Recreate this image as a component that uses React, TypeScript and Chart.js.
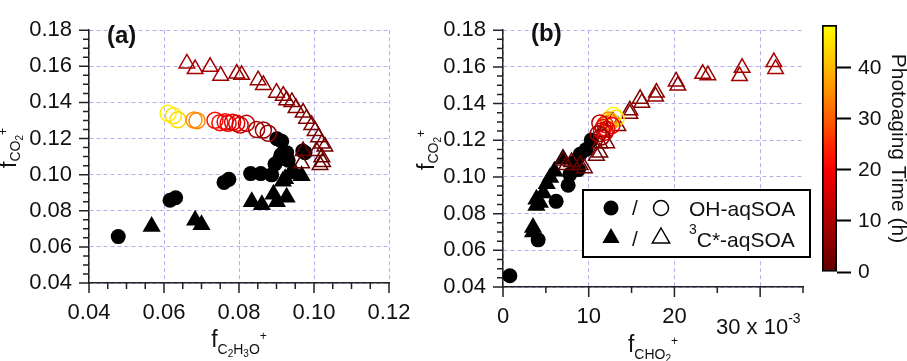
import React, { useEffect, useRef } from 'react';
import { Chart, registerables } from 'chart.js';

Chart.register(...registerables);

const FONT = "'Liberation Sans', Arial, Helvetica, sans-serif";
const TEXT = '#111';
const AXIS = '#222';
const GRID = '#b0b0ee';

// ---------------- data: panel (a)  x = f(C2H3O+), y = f(CO2+) ----------------
const aOpenTriX = [0.0661, 0.0683, 0.0723, 0.0751, 0.0794, 0.0807, 0.0851, 0.0865, 0.0900, 0.0918, 0.0927, 0.0941, 0.0952, 0.0971, 0.0980, 0.0994, 0.1003, 0.1012, 0.1021, 0.1029, 0.1007, 0.1021, 0.0971, 0.0967, 0.1016, 0.1023];
const aOpenTriY = [0.1616, 0.1585, 0.1597, 0.1548, 0.1560, 0.1553, 0.1523, 0.1497, 0.1454, 0.1437, 0.1412, 0.1403, 0.1369, 0.1344, 0.1310, 0.1275, 0.1242, 0.1207, 0.1173, 0.1156, 0.1131, 0.1096, 0.1131, 0.1063, 0.1054, 0.1070];
const aOpenTriT = [10, 9.5, 9, 8.5, 8, 7.5, 7, 6.5, 6, 5.5, 5, 5, 4.5, 4, 4, 3.5, 3.5, 3, 3, 2.5, 2.5, 2, 2, 1.5, 1, 1];

const aOpenCircX = [0.0611, 0.0625, 0.0637, 0.0680, 0.0688, 0.0736, 0.0749, 0.0763, 0.0771, 0.0783, 0.0794, 0.0803, 0.0820, 0.0847, 0.0865, 0.0878];
const aOpenCircY = [0.1340, 0.1326, 0.1304, 0.1303, 0.1299, 0.1301, 0.1288, 0.1293, 0.1284, 0.1290, 0.1284, 0.1275, 0.1284, 0.1250, 0.1247, 0.1229];
const aOpenCircT = [47, 45, 44, 36, 34, 22, 21, 20, 19, 18, 16, 15, 12, 9, 8, 7];

const aClosedCircX = [0.0478, 0.0616, 0.0631, 0.0760, 0.0773, 0.0831, 0.0858, 0.0887, 0.0896, 0.0909, 0.0912, 0.0927, 0.0901, 0.0914, 0.0976, 0.0970, 0.0931];
const aClosedCircY = [0.0657, 0.0858, 0.0872, 0.0957, 0.0974, 0.1006, 0.1006, 0.0999, 0.1059, 0.1088, 0.1110, 0.1122, 0.1199, 0.1185, 0.1122, 0.1131, 0.1080];

const aClosedTriX = [0.0567, 0.0683, 0.0700, 0.0834, 0.0861, 0.0892, 0.0901, 0.0927, 0.0923, 0.0936, 0.0967, 0.0917, 0.0944];
const aClosedTriY = [0.0713, 0.0747, 0.0722, 0.0850, 0.0833, 0.0892, 0.0850, 0.0875, 0.0977, 0.1003, 0.0994, 0.0964, 0.1029];

// ---------------- data: panel (b)  x = f(CHO2+) in 10^-3, y = f(CO2+) ----------------
const bOpenTriX = [31.6, 31.8, 27.9, 27.6, 23.3, 23.9, 20.2, 20.4, 17.9, 17.8, 16.0, 16.2, 14.8, 14.8, 13.4, 12.8, 11.7, 12.1, 11.3, 11.3, 10.9, 9.5, 9.0, 8.0, 7.4, 7.0];
const bOpenTriY = [0.1626, 0.1589, 0.1595, 0.1550, 0.1562, 0.1555, 0.1521, 0.1498, 0.1460, 0.1439, 0.1426, 0.1405, 0.1363, 0.1345, 0.1278, 0.1303, 0.1243, 0.1184, 0.1184, 0.1133, 0.1116, 0.1048, 0.1065, 0.1082, 0.1065, 0.1090];
const bOpenTriT = [10, 9.5, 9, 8.5, 8, 7.5, 7, 6.5, 6, 5.5, 5, 5, 4.5, 4, 4, 3.5, 3.5, 3, 3, 2.5, 2.5, 2, 2, 1.5, 1, 1];

const bOpenCircX = [12.9, 13.2, 12.6, 12.4, 12.3, 11.9, 12.7, 11.7, 12.1, 11.5, 11.9, 11.3, 11.1, 11.5];
const bOpenCircY = [0.1337, 0.1320, 0.1303, 0.1294, 0.1310, 0.1286, 0.1280, 0.1269, 0.1260, 0.1252, 0.1243, 0.1294, 0.1235, 0.1218];
const bOpenCircT = [47, 45, 44, 36, 34, 22, 20, 19, 18, 16, 15, 12, 9, 7];

const bClosedCircX = [0.8, 4.1, 6.2, 7.6, 7.8, 8.4, 9.0, 9.7, 10.3, 8.8];
const bClosedCircY = [0.0461, 0.0657, 0.0867, 0.0955, 0.1014, 0.1082, 0.1124, 0.1150, 0.1201, 0.1040];

const bClosedTriX = [3.5, 3.5, 3.9, 4.3, 4.7, 5.1, 5.5, 6.0, 7.0, 3.9];
const bClosedTriY = [0.0725, 0.0700, 0.0844, 0.0861, 0.0912, 0.0963, 0.0997, 0.1031, 0.1099, 0.0878];

// ---------------- axes / ticks ----------------
const aXTicks = [0.04, 0.06, 0.08, 0.10, 0.12];
const yTicks = [0.04, 0.06, 0.08, 0.10, 0.12, 0.14, 0.16, 0.18];
const bXTicks = [0, 10, 20, 30];
const cbTicks = [0, 10, 20, 30, 40];
const CB_MAX = 48.4;

// colour table (time in h -> rgb)
const TIME_STOPS: [number, number[]][] = [
  [0, [96, 0, 0]],
  [10, [172, 0, 0]],
  [20, [248, 0, 0]],
  [25, [255, 40, 0]],
  [30, [255, 95, 0]],
  [40, [255, 185, 0]],
  [48.4, [255, 255, 0]],
];

function rgb(c: number[]) {
  return `rgb(${Math.round(c[0])},${Math.round(c[1])},${Math.round(c[2])})`;
}
function timeColor(t: number) {
  for (let i = 1; i < TIME_STOPS.length; i++) {
    const [t1, c1] = TIME_STOPS[i];
    const [t0, c0] = TIME_STOPS[i - 1];
    if (t <= t1) {
      const f = Math.max(0, (t - t0) / (t1 - t0));
      return rgb(c0.map((v, k) => v + (c1[k] - v) * f));
    }
  }
  return rgb(TIME_STOPS[TIME_STOPS.length - 1][1]);
}
function pts(xs: number[], ys: number[]) {
  return xs.map((x, i) => ({ x, y: ys[i] }));
}

type Seg = { t: string; s: number; dy: number; b?: boolean };
function drawSegs(ctx: CanvasRenderingContext2D, segs: Seg[], x: number, y: number, rot: number, align: 'left' | 'center') {
  ctx.save();
  ctx.translate(x, y);
  if (rot) ctx.rotate(rot);
  ctx.textBaseline = 'alphabetic';
  ctx.textAlign = 'left';
  ctx.fillStyle = TEXT;
  const ws = segs.map((g) => {
    ctx.font = `${g.b ? 'bold ' : ''}${g.s}px ${FONT}`;
    return ctx.measureText(g.t).width;
  });
  let cx = align === 'center' ? -ws.reduce((a, b) => a + b, 0) / 2 : 0;
  segs.forEach((g, i) => {
    ctx.font = `${g.b ? 'bold ' : ''}${g.s}px ${FONT}`;
    ctx.fillText(g.t, cx, g.dy);
    cx += ws[i];
  });
  ctx.restore();
}

function drawTicks(chart: any, id: string, min: number, max: number, minorStep: number, majorStep: number, base: number) {
  const ctx: CanvasRenderingContext2D = chart.ctx;
  const scale = chart.scales[id];
  const ca = chart.chartArea;
  const n = Math.round((max - min) / minorStep);
  ctx.save();
  ctx.strokeStyle = AXIS;
  ctx.lineWidth = 1.5;
  ctx.beginPath();
  for (let i = 0; i <= n; i++) {
    const v = min + i * minorStep;
    const q = (v - base) / majorStep;
    const major = Math.abs(q - Math.round(q)) < 1e-6;
    const len = major ? 10 : 6;
    const p = scale.getPixelForValue(v);
    if (id === 'x') {
      ctx.moveTo(p, ca.bottom);
      ctx.lineTo(p, ca.bottom + len);
    } else {
      ctx.moveTo(ca.left, p);
      ctx.lineTo(ca.left - len, p);
    }
  }
  ctx.stroke();
  ctx.restore();
}

const CIRC_R = 7.5;
const OPEN_CIRC_R = 8;
const TRI_R = 10.5;
const OPEN_TRI_R = 9;
const TICK_FS = 22;

function datasets(oc: any[], ocT: number[], ot: any[], otT: number[], ct: any[], cc: any[]) {
  return [
    {
      data: oc, pointStyle: 'circle', pointRadius: OPEN_CIRC_R, pointBorderWidth: 1.5,
      pointBackgroundColor: 'rgba(0,0,0,0)', pointBorderColor: ocT.map(timeColor), showLine: false,
    },
    {
      data: ot, pointStyle: 'triangle', pointRadius: OPEN_TRI_R, pointBorderWidth: 1.5,
      pointBackgroundColor: 'rgba(0,0,0,0)', pointBorderColor: otT.map(timeColor), showLine: false,
    },
    {
      data: ct, pointStyle: 'triangle', pointRadius: TRI_R, pointBorderWidth: 0,
      pointBackgroundColor: '#000', pointBorderColor: '#000', showLine: false,
    },
    {
      data: cc, pointStyle: 'circle', pointRadius: CIRC_R, pointBorderWidth: 0,
      pointBackgroundColor: '#000', pointBorderColor: '#000', showLine: false,
    },
  ];
}

function panelConfig(o: any) {
  return {
    type: 'scatter',
    data: { datasets: o.datasets },
    options: {
      responsive: false,
      animation: false,
      devicePixelRatio: 1,
      events: [],
      layout: { padding: { left: 0, right: o.padRight, top: o.padTop, bottom: 0 } },
      plugins: { legend: { display: false }, tooltip: { enabled: false } },
      scales: {
        x: {
          type: 'linear',
          min: o.xMin,
          max: o.xMax,
          afterBuildTicks: (s: any) => { s.ticks = o.xTicks.map((v: number) => ({ value: v })); },
          afterFit: (s: any) => { s.height = o.xHeight; },
          grid: { drawTicks: false, color: GRID, lineWidth: 1 },
          border: { display: true, color: AXIS, width: 1.5, dash: [4, 3] },
          ticks: {
            font: { size: TICK_FS, family: FONT }, color: TEXT, padding: o.xPad,
            maxRotation: 0, minRotation: 0, autoSkip: false,
            callback: o.xFmt,
          },
        },
        y: {
          type: 'linear',
          min: 0.04,
          max: 0.18,
          afterBuildTicks: (s: any) => { s.ticks = yTicks.map((v) => ({ value: v })); },
          afterFit: (s: any) => { s.width = o.yWidth; },
          grid: { drawTicks: false, color: GRID, lineWidth: 1 },
          border: { display: true, color: AXIS, width: 1.5, dash: [4, 3] },
          ticks: {
            font: { size: TICK_FS, family: FONT }, color: TEXT, padding: 17, autoSkip: false,
            callback: (v: any) => Number(v).toFixed(2),
          },
        },
      },
    },
    plugins: [
      {
        id: 'decor',
        afterDraw(chart: any) {
          o.ticksFn(chart);
          o.decorate(chart.ctx, chart);
        },
      },
    ],
  };
}

function usePanel(ref: React.RefObject<HTMLCanvasElement>, cfg: () => any) {
  useEffect(() => {
    if (!ref.current) return;
    const ch = new Chart(ref.current, cfg());
    return () => ch.destroy();
  }, []);
}

const A_LEFT = 0;
const B_LEFT = 410;
const CB_LEFT = 780;

function PanelA() {
  const ref = useRef<HTMLCanvasElement>(null);
  usePanel(ref, () =>
    panelConfig({
      datasets: datasets(
        pts(aOpenCircX, aOpenCircY), aOpenCircT,
        pts(aOpenTriX, aOpenTriY), aOpenTriT,
        pts(aClosedTriX, aClosedTriY),
        pts(aClosedCircX, aClosedCircY),
      ),
      xMin: 0.04, xMax: 0.12, xTicks: aXTicks,
      xFmt: (v: any) => Number(v).toFixed(2),
      padRight: 51, padTop: 9, xHeight: 78, yWidth: 89, xPad: 17,
      ticksFn: (ch: any) => {
        drawTicks(ch, 'x', 0.04, 0.12, 0.005, 0.02, 0.04);
        drawTicks(ch, 'y', 0.04, 0.18, 0.005, 0.02, 0.04);
      },
      decorate: (ctx: CanvasRenderingContext2D) => {
        const ox = A_LEFT;
        drawSegs(ctx, [{ t: '(a)', s: 24, dy: 0, b: true }], 107 - ox, 43, 0, 'left');
        drawSegs(ctx, [
          { t: 'f', s: 23, dy: 0 },
          { t: 'C', s: 14, dy: 7 }, { t: '2', s: 10, dy: 10 },
          { t: 'H', s: 14, dy: 7 }, { t: '3', s: 10, dy: 10 },
          { t: 'O', s: 14, dy: 7 }, { t: '+', s: 12, dy: -7 },
        ], 239 - ox, 347, 0, 'center');
        drawSegs(ctx, [
          { t: 'f', s: 23, dy: 0 },
          { t: 'C', s: 14, dy: 4 }, { t: 'O', s: 14, dy: 4 }, { t: '2', s: 10, dy: 7 },
          { t: '+', s: 12, dy: -9 },
        ], 16 - ox, 148, -Math.PI / 2, 'center');
      },
    }),
  );
  return <canvas ref={ref} width={440} height={361} style={{ position: 'absolute', left: A_LEFT, top: 0 }} />;
}

function PanelB() {
  const ref = useRef<HTMLCanvasElement>(null);
  usePanel(ref, () =>
    panelConfig({
      datasets: datasets(
        pts(bOpenCircX, bOpenCircY), bOpenCircT,
        pts(bOpenTriX, bOpenTriY), bOpenTriT,
        pts(bClosedTriX, bClosedTriY),
        pts(bClosedCircX, bClosedCircY),
      ),
      xMin: 0, xMax: 35, xTicks: bXTicks,
      xFmt: (v: any) => (Number(v) === 30 ? '' : String(v)),
      padRight: 37, padTop: 12.5, xHeight: 74, yWidth: 503 - B_LEFT, xPad: 17,
      ticksFn: (ch: any) => {
        drawTicks(ch, 'x', 0, 35, 5, 10, 0);
        drawTicks(ch, 'y', 0.04, 0.18, 0.005, 0.02, 0.04);
      },
      decorate: (ctx: CanvasRenderingContext2D) => {
        const ox = B_LEFT;
        drawSegs(ctx, [{ t: '(b)', s: 24, dy: 0, b: true }], 531 - ox, 41, 0, 'left');
        // exponent label on x axis
        drawSegs(ctx, [{ t: '30 x 10', s: TICK_FS, dy: 0 }, { t: '-3', s: 14, dy: -11 }], 716 - ox, 334, 0, 'left');
        drawSegs(ctx, [
          { t: 'f', s: 23, dy: 0 },
          { t: 'C', s: 14, dy: 7 }, { t: 'H', s: 14, dy: 7 }, { t: 'O', s: 14, dy: 7 }, { t: '2', s: 10, dy: 10 },
          { t: '+', s: 12, dy: -7 },
        ], 653 - ox, 352, 0, 'center');
        drawSegs(ctx, [
          { t: 'f', s: 23, dy: 0 },
          { t: 'C', s: 14, dy: 4 }, { t: 'O', s: 14, dy: 4 }, { t: '2', s: 10, dy: 7 },
          { t: '+', s: 12, dy: -9 },
        ], 434 - ox, 150, -Math.PI / 2, 'center');

        // legend
        const lx = 583 - ox, ly = 190, lw = 227, lh = 67;
        ctx.save();
        ctx.fillStyle = '#fff';
        ctx.fillRect(lx, ly, lw, lh);
        ctx.strokeStyle = '#000';
        ctx.lineWidth = 2;
        ctx.strokeRect(lx, ly, lw, lh);
        const r1 = 208, r2 = 238;
        const c1 = 611 - ox, c2 = 661 - ox;
        ctx.fillStyle = '#000';
        ctx.beginPath(); ctx.arc(c1, r1, 7.5, 0, Math.PI * 2); ctx.fill();
        ctx.lineWidth = 1.5;
        ctx.beginPath(); ctx.arc(c2, r1, 7.5, 0, Math.PI * 2); ctx.stroke();
        const tri = (cx: number, cy: number, r: number) => {
          ctx.beginPath();
          ctx.moveTo(cx, cy - r);
          ctx.lineTo(cx + r * 0.866, cy + r * 0.5);
          ctx.lineTo(cx - r * 0.866, cy + r * 0.5);
          ctx.closePath();
        };
        tri(c1, r2, 10); ctx.fill();
        tri(c2, r2, 10); ctx.stroke();
        ctx.restore();
        drawSegs(ctx, [{ t: '/', s: 21, dy: 0 }], 635 - ox, 215, 0, 'center');
        drawSegs(ctx, [{ t: '/', s: 21, dy: 0 }], 635 - ox, 246, 0, 'center');
        drawSegs(ctx, [{ t: 'OH-aqSOA', s: 21, dy: 0 }], 689 - ox, 216, 0, 'left');
        drawSegs(ctx, [{ t: '3', s: 14, dy: -13 }, { t: 'C*-aqSOA', s: 21, dy: 0 }], 689 - ox, 247, 0, 'left');
      },
    }),
  );
  return <canvas ref={ref} width={840 - B_LEFT} height={361} style={{ position: 'absolute', left: B_LEFT, top: 0 }} />;
}

function ColorBar() {
  const ref = useRef<HTMLCanvasElement>(null);
  usePanel(ref, () => ({
    type: 'bar',
    data: {
      labels: [''],
      datasets: [
        {
          data: [[0, CB_MAX]],
          backgroundColor: (c: any) => {
            const ch = c.chart;
            const ca = ch.chartArea;
            if (!ca) return '#800';
            const g = ch.ctx.createLinearGradient(0, ca.bottom, 0, ca.top);
            TIME_STOPS.forEach(([t, col]) => g.addColorStop(t / CB_MAX, rgb(col)));
            return g;
          },
          borderColor: '#000',
          borderWidth: 2,
          borderSkipped: false,
          barPercentage: 1,
          categoryPercentage: 1,
        },
      ],
    },
    options: {
      responsive: false,
      animation: false,
      devicePixelRatio: 1,
      events: [],
      layout: { padding: { left: 42, top: 25, bottom: 89, right: 0 } },
      plugins: { legend: { display: false }, tooltip: { enabled: false } },
      scales: {
        x: { display: false },
        y: {
          position: 'right',
          min: 0,
          max: CB_MAX,
          afterBuildTicks: (s: any) => { s.ticks = cbTicks.map((v) => ({ value: v })); },
          afterFit: (s: any) => { s.width = 70; },
          grid: { drawOnChartArea: false, drawTicks: true, tickLength: 14, tickWidth: 2, tickColor: '#000' },
          border: { display: false },
          ticks: { font: { size: 21, family: FONT }, color: TEXT, padding: 7 },
          title: {
            display: true, text: 'Photoaging Time (h)', color: TEXT,
            font: { size: 21, family: FONT, lineHeight: 1 }, padding: { top: -1, bottom: 0 },
          },
        },
      },
    },
  }));
  return <canvas ref={ref} width={127} height={361} style={{ position: 'absolute', left: CB_LEFT, top: 0 }} />;
}

export default function App() {
  return (
    <div style={{ position: 'absolute', left: 0, top: 0, width: 907, height: 361, background: '#fff', overflow: 'hidden' }}>
      <PanelA />
      <PanelB />
      <ColorBar />
    </div>
  );
}
